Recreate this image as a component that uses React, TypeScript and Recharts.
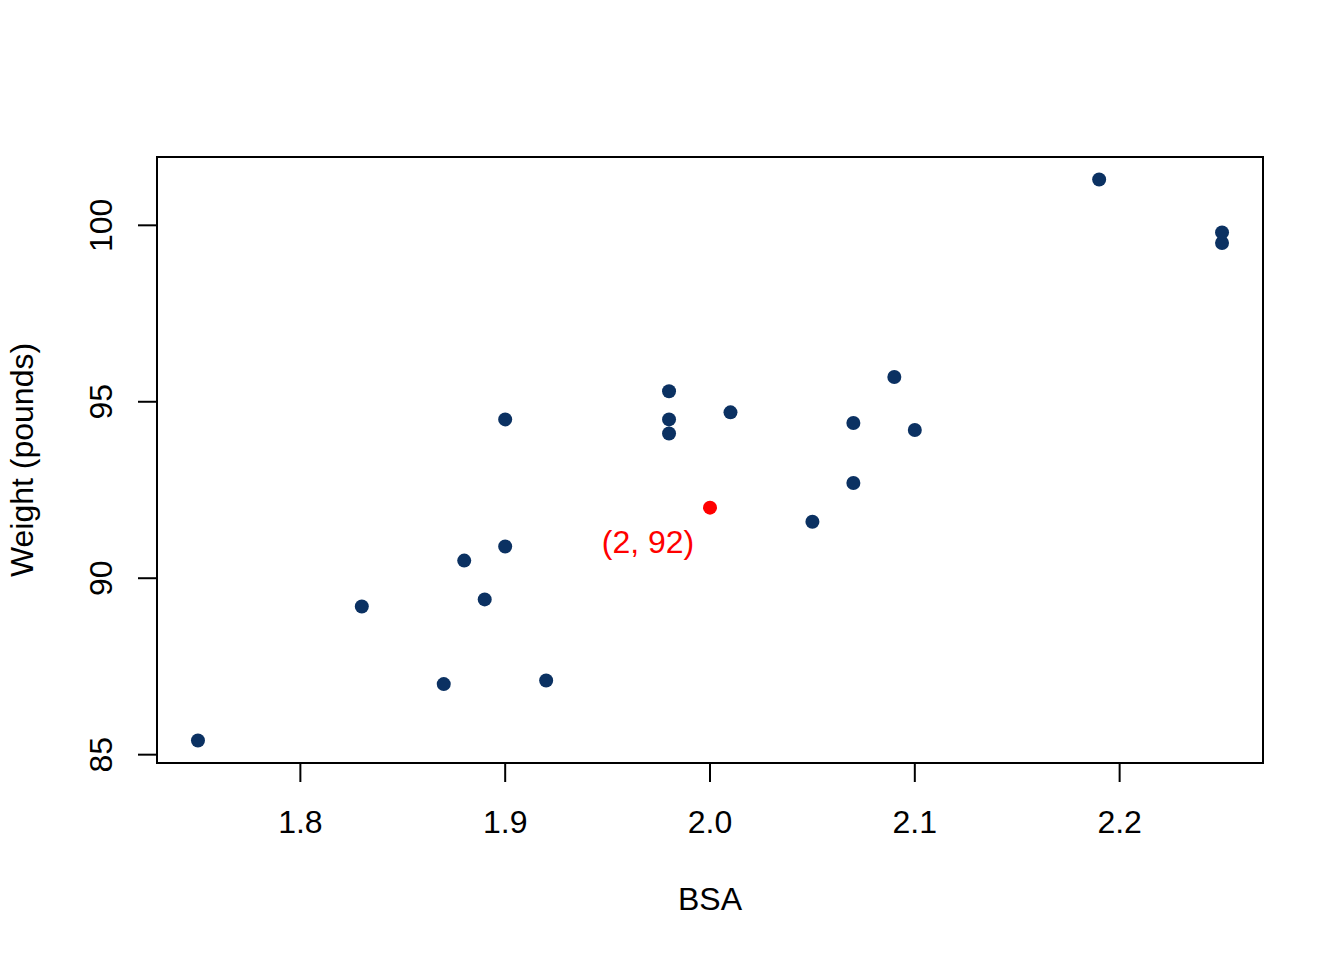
import React from 'react';
import { ScatterChart, Scatter, XAxis, YAxis, ReferenceArea } from 'recharts';

// bloodpress data: body surface area vs weight
const bsa = [1.75, 2.10, 1.98, 2.01, 1.89, 2.25, 2.25, 1.90, 1.83, 2.07, 2.07, 1.98, 2.05, 1.92, 2.19, 1.98, 1.87, 1.90, 1.88, 2.09];
const weight = [85.4, 94.2, 95.3, 94.7, 89.4, 99.5, 99.8, 90.9, 89.2, 92.7, 94.4, 94.1, 91.6, 87.1, 101.3, 94.5, 87.0, 94.5, 90.5, 95.7];
const highlightX = [2];
const highlightY = [92];
const xTicks = [1.8, 1.9, 2.0, 2.1, 2.2];
const yTicks = [85, 90, 95, 100];

const points = bsa.map((x, i) => ({ x, y: weight[i] }));
const highlight = highlightX.map((x, i) => ({ x, y: highlightY[i] }));

const FONT = '"Liberation Sans", Arial, sans-serif';
const FS = 32;
const NAVY = '#0b3162';

// R's default 4% axis expansion
const xDomain = [1.73, 2.27];
const yDomain = [84.764, 101.936];

const YTick = (props: any) => {
  const { y, payload } = props;
  const bx = props.x - 26;
  return (
    <text x={bx} y={y} transform={`rotate(-90 ${bx} ${y})`} textAnchor="middle"
      fontFamily={FONT} fontSize={FS} fill="#000">
      {payload.value}
    </text>
  );
};

const XTick = (props: any) => {
  const { x, y, payload } = props;
  return (
    <text x={x} y={y + 21} textAnchor="middle" fontFamily={FONT} fontSize={FS} fill="#000">
      {Number(payload.value).toFixed(1)}
    </text>
  );
};

const dot = (p: any) => <circle cx={p.cx} cy={p.cy} r={7} fill={NAVY} />;

const redDot = (p: any) => (
  <g>
    <circle cx={p.cx} cy={p.cy} r={7} fill="#ff0000" />
    <text x={p.cx - 62} y={p.cy + 45} textAnchor="middle" fontFamily={FONT} fontSize={FS} fill="#ff0000">
      {`(${p.payload.x}, ${p.payload.y})`}
    </text>
  </g>
);

export default function App() {
  return (
    <div style={{ position: 'absolute', left: 0, top: 0, width: 1344, height: 960, background: '#fff' }}>
      <ScatterChart width={1344} height={960} margin={{ top: 157, right: 81, bottom: 117, left: 77 }}>
        <XAxis
          type="number"
          dataKey="x"
          domain={xDomain}
          ticks={xTicks}
          allowDataOverflow
          height={80}
          axisLine={false}
          tickSize={19}
          tickMargin={30}
          tickLine={{ stroke: '#000', strokeWidth: 2 }}
          tick={<XTick />}
          label={{
            content: (lp: any) => {
              const vb = lp.viewBox;
              return (
                <text x={vb.x + vb.width / 2} y={vb.y + 147} textAnchor="middle"
                  fontFamily={FONT} fontSize={FS} fill="#000">BSA</text>
              );
            },
          }}
        />
        <YAxis
          type="number"
          dataKey="y"
          domain={yDomain}
          ticks={yTicks}
          allowDataOverflow
          width={80}
          axisLine={false}
          tickSize={19}
          tickMargin={0}
          tickLine={{ stroke: '#000', strokeWidth: 2 }}
          tick={<YTick />}
          label={{
            content: (lp: any) => {
              const vb = lp.viewBox;
              const lx = vb.x - 44;
              const ly = vb.y + vb.height / 2;
              return (
                <text x={lx} y={ly} transform={`rotate(-90 ${lx} ${ly})`} textAnchor="middle"
                  fontFamily={FONT} fontSize={FS} fill="#000">Weight (pounds)</text>
              );
            },
          }}
        />
        <ReferenceArea x1={xDomain[0]} x2={xDomain[1]} y1={yDomain[0]} y2={yDomain[1]}
          fill="none" stroke="#000" strokeWidth={2} fillOpacity={0} strokeOpacity={1} />
        <Scatter data={points} shape={dot} isAnimationActive={false} />
        <Scatter data={highlight} shape={redDot} isAnimationActive={false} />
      </ScatterChart>
    </div>
  );
}
